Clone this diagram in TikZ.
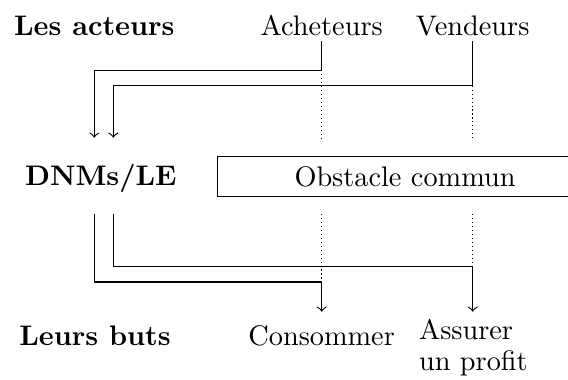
\documentclass[tikz,border=0pt]{standalone}
\begin{document}
\begin{tikzpicture}[x=0.3534pt,y=-0.3534pt,
  lbl/.style={anchor=base,inner sep=0pt},
  head/.style={lbl,font=\bfseries},
  conn/.style={->,line width=0.4pt},
  guide/.style={densely dotted,line width=0.4pt}]
\useasboundingbox (0,0) rectangle (568,379);
% row labels
\node[head] (lesacteurs) at (94.3,35) {Les acteurs};
\node[head] (dnms) at (100.8,185) {DNMs/LE};
\node[head] (leursbuts) at (95,345) {Leurs buts};
% actors
\node[lbl,inner ysep=1.77pt] (acheteurs) at (321.7,35) {Acheteurs};
\node[lbl,inner ysep=1.77pt] (vendeurs) at (472.7,35) {Vendeurs};
% obstacle
\node[draw,line width=0.4pt,minimum width=132.7pt,minimum height=13.9pt] (obstacle) at (405,176.4) {Obstacle commun};
% goals
\node[lbl] (consommer) at (321.7,345) {Consommer};
\node[anchor=base west,inner sep=0pt] (assurer) at (418.5,339.3)
  {\renewcommand\arraystretch{0.904}\begin{tabular}[t]{@{}l@{}}Assurer\\un profit\end{tabular}};
% coordinates
\coordinate (ab) at (94.3,70.3);
\coordinate (aend) at (94.3,137.7);
\coordinate (vb) at (113.3,85.7);
\coordinate (vend) at (113.3,137.7);
\coordinate (b1) at (94.3,214);
\coordinate (b2) at (113.3,214);
\coordinate (cc) at (321.7,282);
\coordinate (cend) at (321.7,311.7);
\coordinate (dd) at (472.7,266.7);
\coordinate (dend) at (472.7,311.7);
% connectors top
\draw[conn] (acheteurs.south) |- (ab) -- (aend);
\draw[conn] (vendeurs.south) |- (vb) -- (vend);
\draw[guide] (acheteurs.south |- ab) -- (acheteurs.south |- aend);
\draw[guide] (vendeurs.south |- vb) -- (vendeurs.south |- vend);
% connectors bottom
\draw[conn] (b1) |- (cc) -- (cend);
\draw[conn] (b2) |- (dd) -- (dend);
\draw[guide] (cc |- b1) -- (cc);
\draw[guide] (dd |- b1) -- (dd);
\end{tikzpicture}
\end{document}
